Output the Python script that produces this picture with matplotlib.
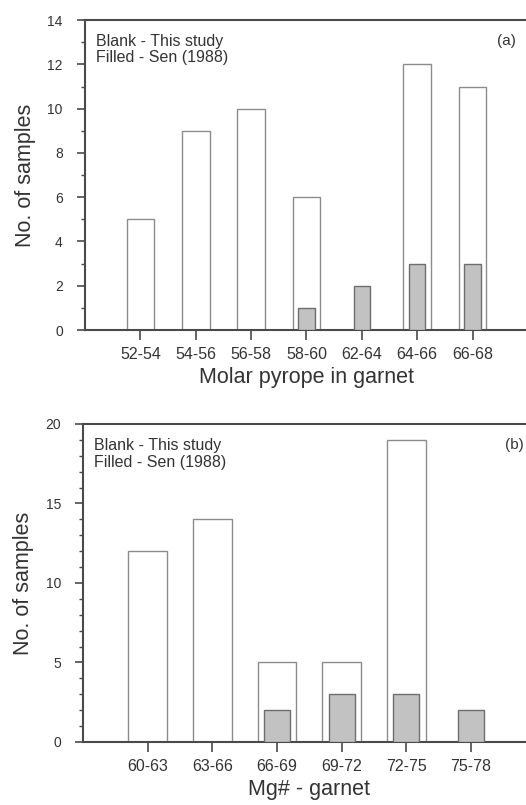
import numpy as np
import matplotlib
matplotlib.use('Agg')
import matplotlib.pyplot as plt

plt.rcParams['font.family'] = ['Liberation Sans', 'DejaVu Sans']

# panel (a) - molar pyrope
cats_a = ['52-54', '54-56', '56-58', '58-60', '62-64', '64-66', '66-68']
blank_a = [5, 9, 10, 6, 0, 12, 11]
filled_a = [0, 0, 0, 1, 2, 3, 3]

# panel (b) - Mg#
cats_b = ['60-63', '63-66', '66-69', '69-72', '72-75', '75-78']
blank_b = [12, 14, 5, 5, 19, 0]
filled_b = [0, 0, 2, 3, 3, 2]

spine_col = '#4a4a4a'
edge_open = '#8c8c8c'
edge_fill = '#6e6e6e'
face_fill = '#c2c2c2'
txt_col = '#333333'

fig = plt.figure(figsize=(5.26, 8.05), dpi=100)


def draw(ax, cats, blank, filled, w_open, w_fill, ymax, major, xlabel):
    x = np.arange(1, len(cats) + 1)
    b = np.array(blank)
    f = np.array(filled)
    m = b > 0
    ax.bar(x[m], b[m], width=w_open, color='white', edgecolor=edge_open, linewidth=1.0, zorder=2)
    m = f > 0
    ax.bar(x[m], f[m], width=w_fill, color=face_fill, edgecolor=edge_fill, linewidth=1.0, zorder=3)
    ax.set_ylim(0, ymax)
    ax.set_yticks(np.arange(0, ymax + 1, major))
    ax.set_yticks(np.arange(0, ymax + 1, 1), minor=True)
    ax.set_xticks(x)
    ax.set_xticklabels(cats, fontsize=11.5, color=txt_col)
    ax.tick_params(axis='y', which='major', labelsize=10, length=6, width=1.2, colors=spine_col,
                   labelcolor=txt_col, pad=10)
    ax.tick_params(axis='y', which='minor', length=3, width=1.0, colors=spine_col)
    ax.tick_params(axis='x', which='major', length=7, width=1.2, colors=spine_col, labelcolor=txt_col, pad=5)
    for s in ['left', 'bottom', 'top']:
        ax.spines[s].set_color(spine_col)
        ax.spines[s].set_linewidth(1.5)
    ax.spines['right'].set_visible(False)
    ax.set_ylabel('No. of samples', fontsize=15.5, color=txt_col, labelpad=8)
    ax.set_xlabel(xlabel, fontsize=15.5, color=txt_col, labelpad=4)
    ax.text(0.025, 0.955, 'Blank - This study\nFilled - Sen (1988)', transform=ax.transAxes,
            fontsize=11.5, va='top', ha='left', color=txt_col, linespacing=1.1)
    return ax


ax1 = fig.add_axes([0.1616, 0.590, 0.842, 0.385])
draw(ax1, cats_a, blank_a, filled_a, 0.5, 0.3, 14, 2, 'Molar pyrope in garnet')
ax1.set_xlim(0, 8)
ax1.text(7.45, 13.05, '(a)', fontsize=11, ha='left', va='center', color=txt_col)

ax2 = fig.add_axes([0.158, 0.0783, 0.860, 0.395])
draw(ax2, cats_b, blank_b, filled_b, 0.6, 0.4, 20, 5, 'Mg# - garnet')
ax2.set_xlim(0, 7)
ax2.text(6.53, 18.7, '(b)', fontsize=11, ha='left', va='center', color=txt_col)

fig.savefig('out.png', dpi=100)
